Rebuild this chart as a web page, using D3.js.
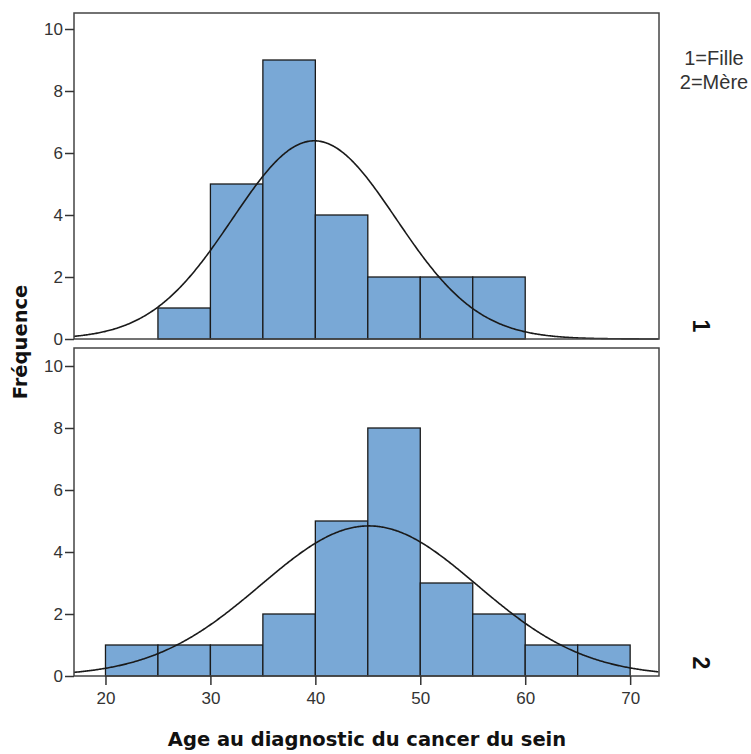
<!DOCTYPE html>
<html><head><meta charset="utf-8">
<script src="https://cdn.jsdelivr.net/npm/d3@7"></script>
<style>body{margin:0;background:#fff}</style>
</head><body>
<script>
const binStarts = [20,25,30,35,40,45,50,55,60,65];
const binWidth = 5;
const filleCounts = [0,1,5,9,4,2,2,2,0,0];
const mereCounts  = [1,1,1,2,5,8,3,2,1,1];
const groups = ["1","2"];
const legendLines = ["1=Fille","2=Mère"];
const xTicks = [20,30,40,50,60,70];
const yTicks = [0,2,4,6,8,10];
// fitted normal curve parameters (mean, sd, n)
const filleFit = {mean:39.9, sd:7.8, n:25};
const mereFit  = {mean:45.1, sd:10.3, n:25};

const W=751,H=754;
const svg=d3.select("body").append("svg").attr("width",W).attr("height",H);
const x=d3.scaleLinear().domain([17,72.75]).range([74,659]);
const panels=[
 {counts:filleCounts, fit:filleFit, top:13, bottom:339, label:groups[0]},
 {counts:mereCounts, fit:mereFit, top:348, bottom:676, label:groups[1]}
];
const font="'DejaVu Sans', sans-serif";
const tfont="'Liberation Sans', Arial, sans-serif";
panels.forEach(p=>{
  const y=d3.scaleLinear().domain([0,10]).range([p.bottom,p.bottom-310]);
  const g=svg.append("g");
  g.selectAll("rect.bar").data(binStarts.map((s,i)=>({s,c:p.counts[i]})).filter(d=>d.c>0))
   .enter().append("rect")
   .attr("x",d=>x(d.s)).attr("width",d=>x(d.s+binWidth)-x(d.s))
   .attr("y",d=>y(d.c)).attr("height",d=>y(0)-y(d.c))
   .attr("fill","#79a8d6").attr("stroke","#1a1a1a").attr("stroke-width",1.3);
  const xs=d3.range(17,72.76,0.1);
  const f=p.fit;
  const dens=v=>f.n*binWidth/(f.sd*Math.sqrt(2*Math.PI))*Math.exp(-0.5*((v-f.mean)/f.sd)**2);
  g.append("path").datum(xs).attr("d",d3.line().x(v=>x(v)).y(v=>y(dens(v))))
   .attr("fill","none").attr("stroke","#1a1a1a").attr("stroke-width",1.6);
  g.append("rect").attr("x",74).attr("y",p.top).attr("width",659-74).attr("height",p.bottom-p.top)
   .attr("fill","none").attr("stroke","#444").attr("stroke-width",1.5);
  const ya=g.append("g").attr("transform","translate(74,0)")
   .call(d3.axisLeft(y).tickValues(yTicks).tickSize(9).tickPadding(2).tickFormat(d3.format("d")));
  ya.select(".domain").remove();
  ya.selectAll("line").attr("stroke","#333").attr("stroke-width",1.5);
  ya.selectAll("text").attr("font-family",tfont).attr("font-size",17).attr("fill","#333");
  svg.append("text").attr("transform",`translate(${701},${p.bottom-13}) rotate(90)`)
   .attr("text-anchor","middle").attr("dominant-baseline","central")
   .attr("font-family",tfont).attr("font-weight","bold").attr("font-size",23).attr("fill","#111").text(p.label);
});
const xa=svg.append("g").attr("transform","translate(0,676)")
 .call(d3.axisBottom(x).tickValues(xTicks).tickSize(9).tickPadding(7).tickFormat(d3.format("d")));
xa.select(".domain").remove();
xa.selectAll("line").attr("stroke","#333").attr("stroke-width",1.5);
xa.selectAll("text").attr("font-family",tfont).attr("font-size",17).attr("fill","#333");
svg.append("text").attr("x",367).attr("y",746).attr("text-anchor","middle")
 .attr("font-family",font).attr("font-weight","bold").attr("font-size",19.5).attr("fill","#111")
 .text("Age au diagnostic du cancer du sein");
svg.append("text").attr("transform","translate(27,342) rotate(-90)").attr("text-anchor","middle")
 .attr("font-family",font).attr("font-weight","bold").attr("font-size",19.5).attr("fill","#111")
 .text("Fréquence");
svg.append("g").selectAll("text").data(legendLines).enter().append("text")
 .attr("x",714).attr("y",(d,i)=>65+i*24).attr("text-anchor","middle")
 .attr("font-family",tfont).attr("font-size",20).attr("fill","#333")
 .text(d=>d);
</script>
</body></html>
